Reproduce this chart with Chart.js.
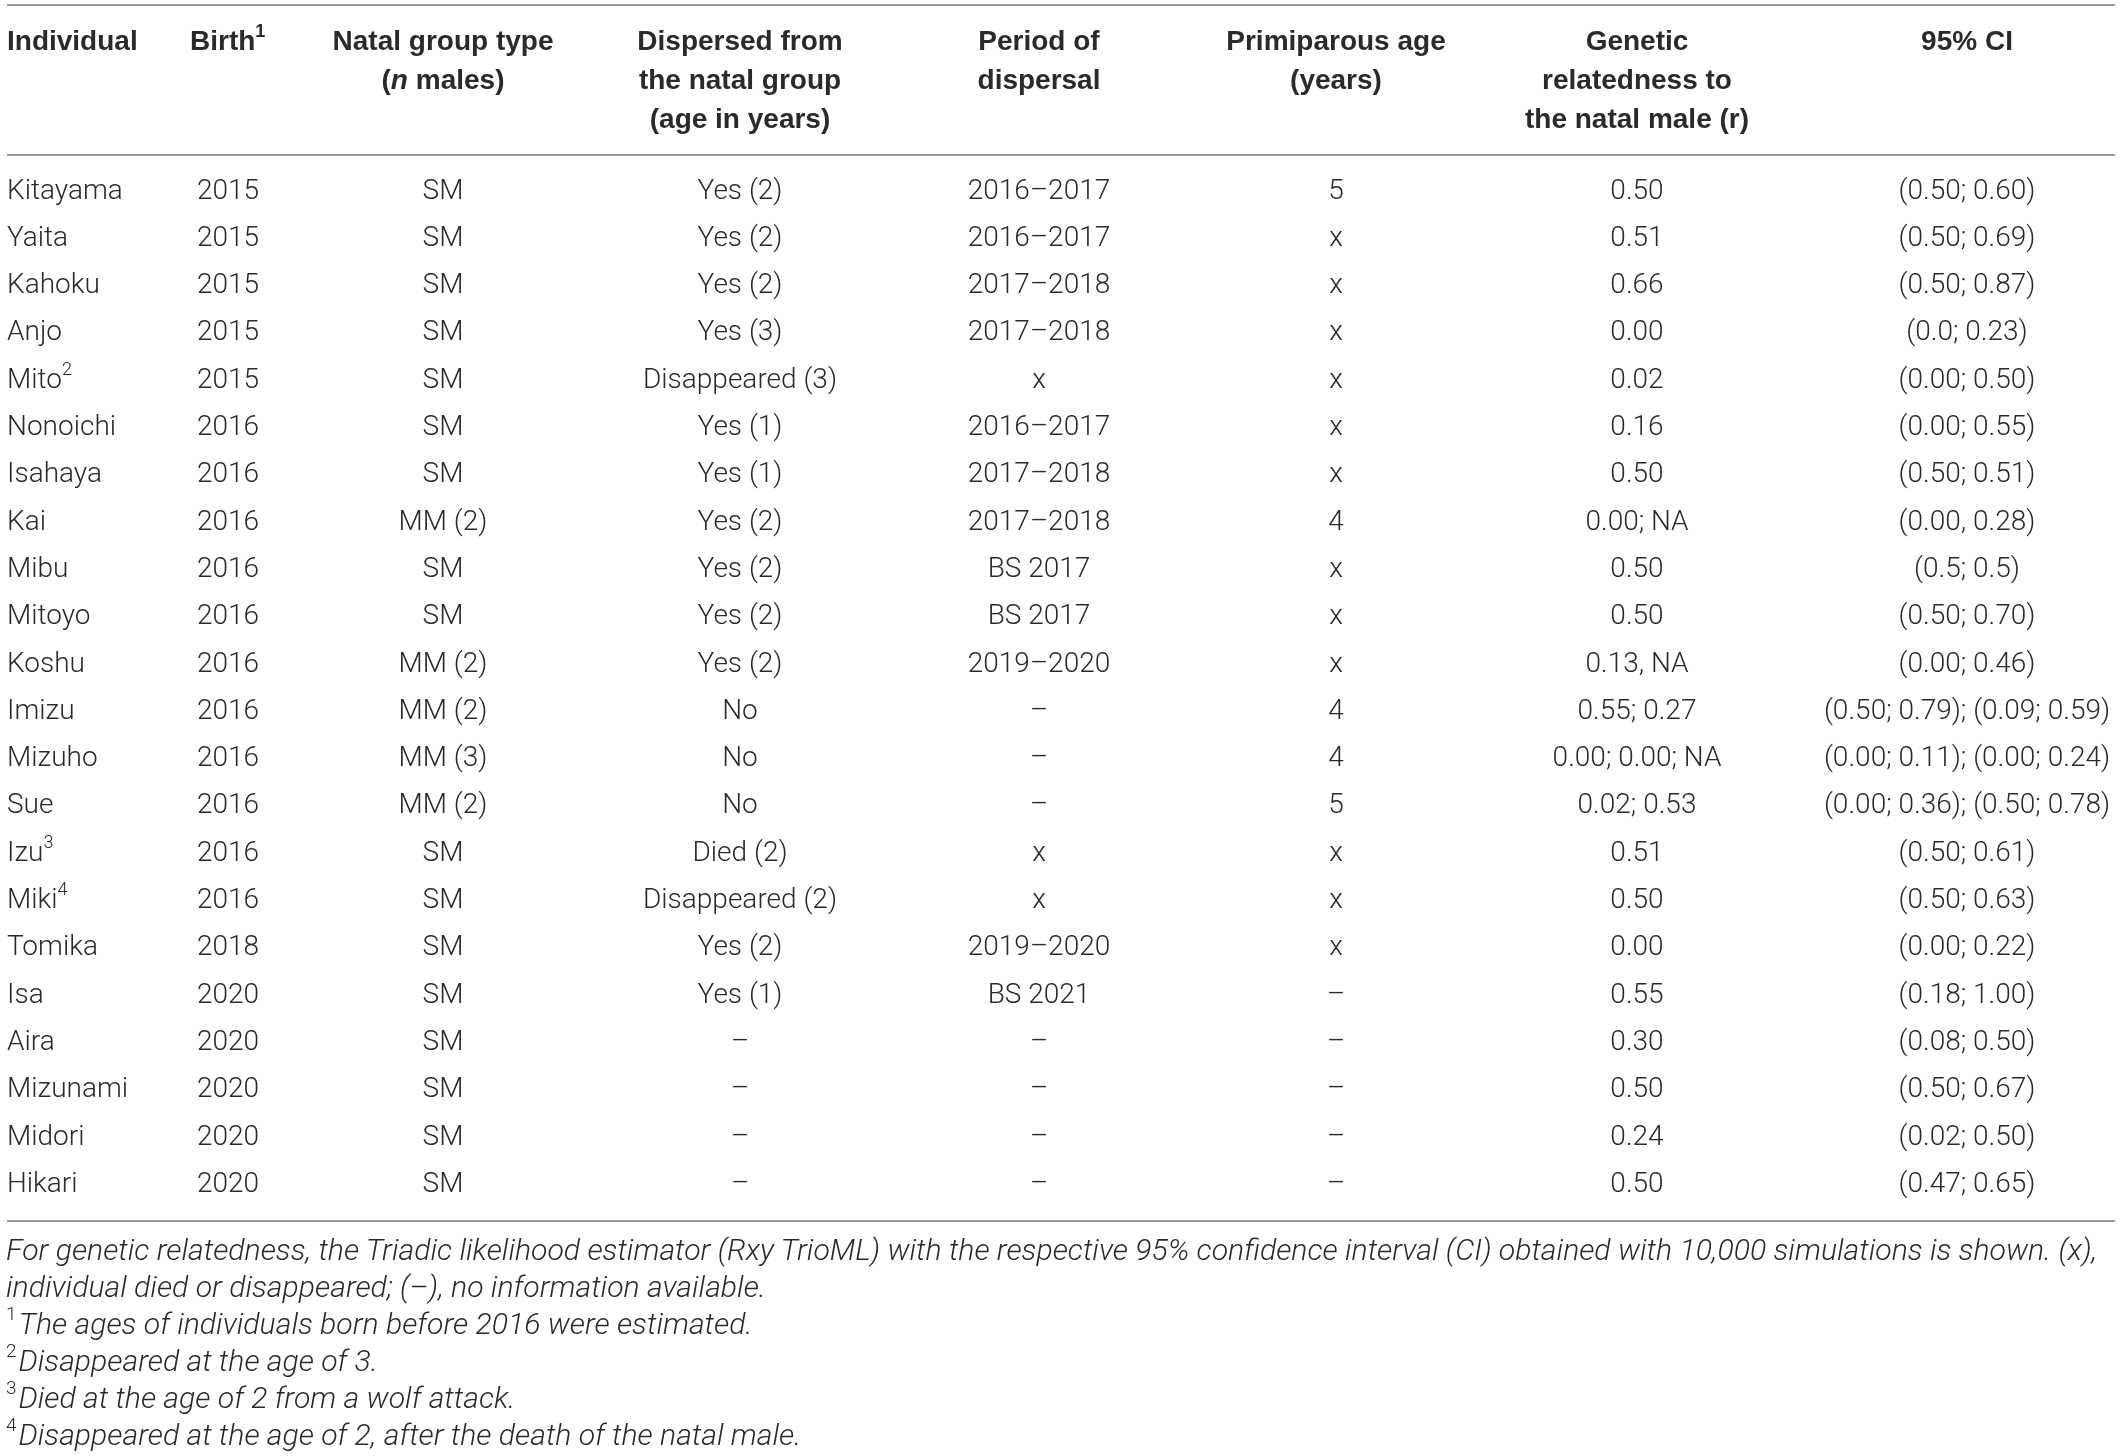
<!DOCTYPE html>
<html>
<head>
<meta charset="utf-8">
<script src="https://cdn.jsdelivr.net/npm/chart.js@4.4.1/dist/chart.umd.min.js"></script>
<style>
  html, body { margin: 0; padding: 0; background: #fff; }
  #wrap { position: relative; width: 2118px; height: 1456px; }
  #tableChart { position: absolute; left: 0; top: 0; }
  #notes {
    position: absolute; left: 6px; top: 1231px; width: 2112px; white-space: nowrap;
    font-family: "Roboto", "Liberation Sans", sans-serif; font-weight: 300;
    font-style: italic; font-size: 30.2px; line-height: 37px; color: #2a2a2a;
  }
  #notes sup { font-size: 19px; line-height: 0; position: relative; top: -3px; font-style: normal; margin-right: 2px; }
</style>
</head>
<body>
<div id="wrap">
  <canvas id="tableChart" width="2118" height="1456"></canvas>
  <div id="notes">
    For genetic relatedness, the Triadic likelihood estimator (Rxy TrioML) with the respective 95% confidence interval (CI) obtained with 10,000 simulations is shown. (x),<br>
    individual died or disappeared; (–), no information available.<br>
    <sup>1</sup>The ages of individuals born before 2016 were estimated.<br>
    <sup>2</sup>Disappeared at the age of 3.<br>
    <sup>3</sup>Died at the age of 2 from a wolf attack.<br>
    <sup>4</sup>Disappeared at the age of 2, after the death of the natal male.
  </div>
</div>
<script>
// Table data (^n = footnote mark, *x* = italic)
const headers = [
  ["Individual"],
  ["Birth^1"],
  ["Natal group type", "(*n* males)"],
  ["Dispersed from", "the natal group", "(age in years)"],
  ["Period of", "dispersal"],
  ["Primiparous age", "(years)"],
  ["Genetic", "relatedness to", "the natal male (r)"],
  ["95% CI"]
];

const individuals = ["Kitayama", "Yaita", "Kahoku", "Anjo", "Mito^2", "Nonoichi", "Isahaya", "Kai",
  "Mibu", "Mitoyo", "Koshu", "Imizu", "Mizuho", "Sue", "Izu^3", "Miki^4", "Tomika", "Isa",
  "Aira", "Mizunami", "Midori", "Hikari"];

const birthYears = ["2015", "2015", "2015", "2015", "2015", "2016", "2016", "2016", "2016", "2016",
  "2016", "2016", "2016", "2016", "2016", "2016", "2018", "2020", "2020", "2020", "2020", "2020"];

const natalGroup = ["SM", "SM", "SM", "SM", "SM", "SM", "SM", "MM (2)", "SM", "SM", "MM (2)",
  "MM (2)", "MM (3)", "MM (2)", "SM", "SM", "SM", "SM", "SM", "SM", "SM", "SM"];

const dispersed = ["Yes (2)", "Yes (2)", "Yes (2)", "Yes (3)", "Disappeared (3)", "Yes (1)", "Yes (1)",
  "Yes (2)", "Yes (2)", "Yes (2)", "Yes (2)", "No", "No", "No", "Died (2)", "Disappeared (2)",
  "Yes (2)", "Yes (1)", "–", "–", "–", "–"];

const dispersalPeriod = ["2016–2017", "2016–2017", "2017–2018", "2017–2018", "x", "2016–2017",
  "2017–2018", "2017–2018", "BS 2017", "BS 2017", "2019–2020", "–", "–", "–", "x", "x",
  "2019–2020", "BS 2021", "–", "–", "–", "–"];

const primiparousAge = ["5", "x", "x", "x", "x", "x", "x", "4", "x", "x", "x", "4", "4", "5",
  "x", "x", "x", "–", "–", "–", "–", "–"];

const relatedness = ["0.50", "0.51", "0.66", "0.00", "0.02", "0.16", "0.50", "0.00; NA", "0.50",
  "0.50", "0.13, NA", "0.55; 0.27", "0.00; 0.00; NA", "0.02; 0.53", "0.51", "0.50", "0.00",
  "0.55", "0.30", "0.50", "0.24", "0.50"];

const ci95 = ["(0.50; 0.60)", "(0.50; 0.69)", "(0.50; 0.87)", "(0.0; 0.23)", "(0.00; 0.50)",
  "(0.00; 0.55)", "(0.50; 0.51)", "(0.00, 0.28)", "(0.5; 0.5)", "(0.50; 0.70)", "(0.00; 0.46)",
  "(0.50; 0.79); (0.09; 0.59)", "(0.00; 0.11); (0.00; 0.24)", "(0.00; 0.36); (0.50; 0.78)",
  "(0.50; 0.61)", "(0.50; 0.63)", "(0.00; 0.22)", "(0.18; 1.00)", "(0.08; 0.50)",
  "(0.50; 0.67)", "(0.02; 0.50)", "(0.47; 0.65)"];

const columns = [individuals, birthYears, natalGroup, dispersed, dispersalPeriod,
  primiparousAge, relatedness, ci95];

// layout
const colX = [7, 197, 443, 740, 1039, 1336, 1637, 1967];
const headX = [7, 190, 443, 740, 1039, 1336, 1637, 1967];
const colAlign = ["left", "left", "center", "center", "center", "center", "center", "center"];
const headerLineY = [42, 81, 120];
const ruleY = [5, 155, 1221];
const textColor = "#2a2a2a";
const ruleColor = "#9a9a9a";
const bodyFont = { family: '"Roboto", "Liberation Sans", sans-serif', weight: "300", size: 28 };
const headFont = { family: '"Liberation Sans", sans-serif', weight: "bold", size: 28 };

function fontStr(f, size, italic) {
  return (italic ? "italic " : "") + f.weight + " " + size + "px " + f.family;
}

// split "Birth^1" / "(*n* males)" into styled pieces
function pieces(text) {
  return text.split(/(\^\d|\*[^*]+\*)/).filter(s => s).map(s => {
    if (s[0] === "^") return { t: s.slice(1), sup: true };
    if (s[0] === "*") return { t: s.slice(1, -1), it: true };
    return { t: s };
  });
}

function drawRich(ctx, text, x, y, align, f) {
  const parts = pieces(text);
  const supSize = Math.round(f.size * 0.66);
  let total = 0;
  parts.forEach(p => {
    ctx.font = fontStr(f, p.sup ? supSize : f.size, p.it);
    p.w = ctx.measureText(p.t).width;
    total += p.w;
  });
  let cx = align === "center" ? x - total / 2 : x;
  parts.forEach(p => {
    ctx.font = fontStr(f, p.sup ? supSize : f.size, p.it);
    ctx.fillText(p.t, cx, p.sup ? y - f.size * 0.36 : y);
    cx += p.w;
  });
}

const tablePlugin = {
  id: "tableCells",
  afterDraw(chart) {
    const { ctx, scales: { x, y } } = chart;
    ctx.save();
    ctx.strokeStyle = ruleColor;
    ctx.lineWidth = 2;
    ruleY.forEach(ry => {
      ctx.beginPath();
      ctx.moveTo(x.getPixelForValue(7), ry);
      ctx.lineTo(x.getPixelForValue(2115), ry);
      ctx.stroke();
    });
    ctx.fillStyle = textColor;
    ctx.textAlign = "left";
    ctx.textBaseline = "middle";
    headers.forEach((lines, c) => {
      lines.forEach((line, k) => {
        drawRich(ctx, line, x.getPixelForValue(headX[c]), headerLineY[k], colAlign[c], headFont);
      });
    });
    individuals.forEach((name, i) => {
      const py = y.getPixelForValue(i);
      columns.forEach((col, c) => {
        drawRich(ctx, col[i], x.getPixelForValue(colX[c]), py, colAlign[c], bodyFont);
      });
    });
    ctx.restore();
  }
};

new Chart(document.getElementById("tableChart"), {
  type: "scatter",
  data: { labels: individuals, datasets: [{ data: [] }] },
  options: {
    responsive: false,
    animation: false,
    devicePixelRatio: 1,
    layout: { padding: { top: 167.9, bottom: 247.5, left: 0, right: 0 } },
    plugins: { legend: { display: false }, tooltip: { enabled: false } },
    scales: {
      x: { type: "linear", display: false, min: 0, max: 2118 },
      y: { type: "category", labels: individuals, offset: true, display: false }
    }
  },
  plugins: [tablePlugin]
});
</script>
</body>
</html>
